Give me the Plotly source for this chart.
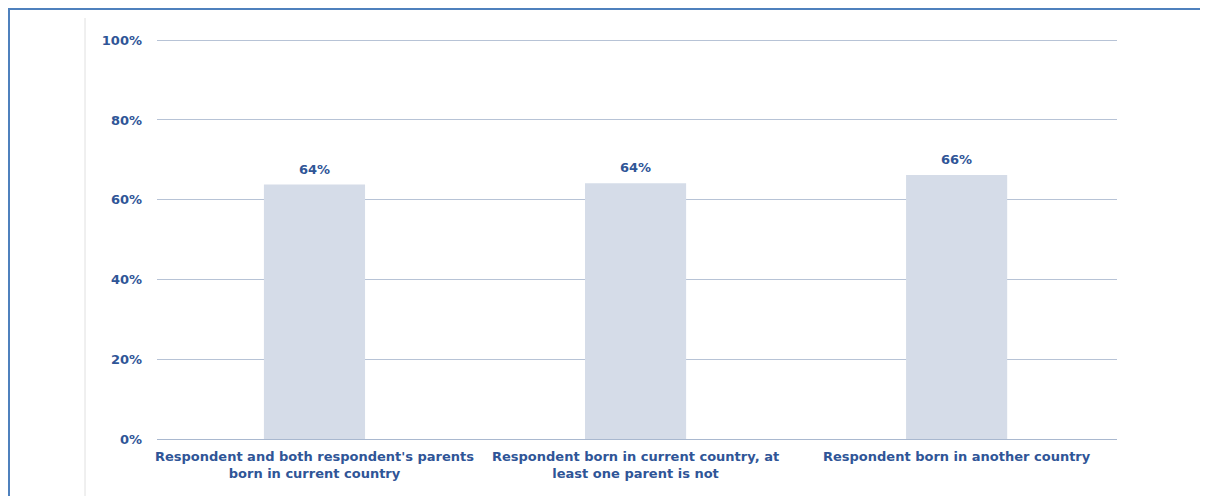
import plotly.graph_objects as go

categories = [
    "Respondent and both respondent's parents<br>born in current country",
    "Respondent born in current country, at<br>least one parent is not",
    "Respondent born in another country",
]
values = [63.8, 64.1, 66.2]
labels = ["64%", "64%", "66%"]
tick_vals = [0, 20, 40, 60, 80, 100]
tick_text = ["0%", "20%", "40%", "60%", "80%", "100%"]

# page has an 8px body margin, so the figure spans 1200x488 from (8,8)
W, H = 1200, 488
L, R, T, B = 149, 91, 31, 57
pw, ph = W - L - R, H - T - B

def px(x):
    return (x - L) / pw

def py(y):
    return (H - B - y) / ph

font_color = "#2F5597"
font_family = "Verdana, DejaVu Sans, sans-serif"
bold = dict(family=font_family, size=13, color=font_color, weight="bold")

fig = go.Figure(go.Bar(
    x=categories, y=values,
    marker=dict(color="#D5DCE8", line=dict(width=0)),
    width=0.315,
))

for c, v, t in zip(categories, values, labels):
    fig.add_annotation(x=c, y=v, text=t, showarrow=False, yanchor="bottom",
                       yshift=6, font=bold)

fig.update_layout(
    width=W, height=H,
    margin=dict(l=L, r=R, t=T, b=B, autoexpand=False),
    paper_bgcolor="white", plot_bgcolor="white",
    showlegend=False,
    font=bold,
    xaxis=dict(showgrid=False, showline=True, linecolor="#A9B8CF", linewidth=1,
               range=[-0.4905, 2.4995],
               tickfont=bold, ticks="", ticklabelstandoff=5, automargin=False),
    yaxis=dict(range=[0, 100.3], tickvals=tick_vals, ticktext=tick_text,
               showgrid=True, gridcolor="#B7C3D6", gridwidth=1,
               zeroline=False, showline=False, ticks="",
               tickfont=bold, ticklabelstandoff=14, automargin=False),
    shapes=[
        dict(type="line", xref="paper", yref="paper", x0=px(77), x1=px(77),
             y0=py(10), y1=py(495), line=dict(color="#E0E0E0", width=1)),
        dict(type="line", xref="paper", yref="paper", x0=px(1), x1=px(1),
             y0=py(1), y1=py(495), line=dict(color="#4F81BD", width=2)),
        dict(type="line", xref="paper", yref="paper", x0=px(0), x1=px(1205),
             y0=py(1), y1=py(1), line=dict(color="#4F81BD", width=2)),
    ],
)

fig.write_html("out.html")
